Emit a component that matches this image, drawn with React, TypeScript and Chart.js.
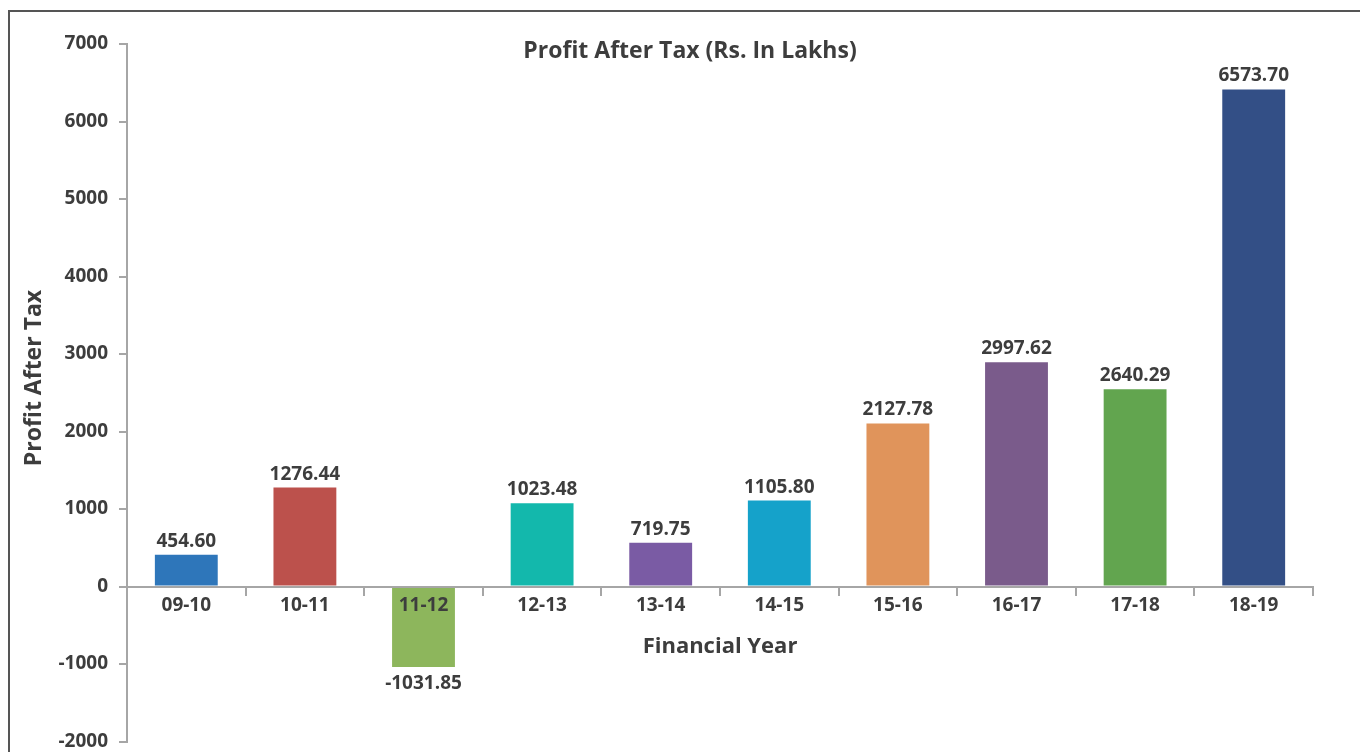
import React, { useEffect, useRef } from "react";
import { Chart, registerables } from "chart.js";

Chart.register(...registerables);

const categories = ["09-10", "10-11", "11-12", "12-13", "13-14", "14-15", "15-16", "16-17", "17-18", "18-19"];
// bar heights as drawn in the picture
const barValues = [410, 1277, -1039, 1074, 565, 1109, 2105, 2894, 2545, 6413];
// value labels printed above/below each bar
const valueLabels = ["454.60", "1276.44", "-1031.85", "1023.48", "719.75", "1105.80", "2127.78", "2997.62", "2640.29", "6573.70"];
const barColors = ["#2E76BA", "#BC514C", "#8DB65C", "#13B8AC", "#7A5BA4", "#15A2CA", "#E0945B", "#7A5B8B", "#62A54F", "#334F86"];
const yMin = -2000;
const yMax = 7000;
const yStep = 1000;

const chartTitle = "Profit After Tax (Rs. In Lakhs)";
const xTitle = "Financial Year";
const yTitle = "Profit After Tax";

const FONT = "'Open Sans', 'Noto Sans', sans-serif";
const TEXT = "#3d3d3d";
const AXIS = "#a6a6a6";

const textPlugin = {
  id: "textPlugin",
  afterDatasetsDraw(chart: any) {
    const ctx = chart.ctx;
    const area = chart.chartArea;
    const meta = chart.getDatasetMeta(0);
    ctx.save();
    ctx.fillStyle = TEXT;
    ctx.textAlign = "center";
    ctx.textBaseline = "alphabetic";
    ctx.font = `bold 19px ${FONT}`;
    meta.data.forEach((bar: any, i: number) => {
      const v = barValues[i];
      if (v >= 0) {
        ctx.fillText(valueLabels[i], bar.x, bar.y - 8);
      } else {
        ctx.fillText(valueLabels[i], bar.x, bar.y + 22);
      }
    });
    // chart title
    ctx.font = `bold 23px ${FONT}`;
    ctx.fillText(chartTitle, 690, 58);
    // x axis title
    ctx.font = `bold 22px ${FONT}`;
    ctx.fillText(xTitle, (area.left + area.right) / 2, 653);
    // y axis title
    ctx.font = `bold 23px ${FONT}`;
    ctx.save();
    ctx.translate(41, 378);
    ctx.rotate(-Math.PI / 2);
    ctx.fillText(yTitle, 0, 0);
    ctx.restore();
    ctx.restore();
  },
};

export default function App() {
  const ref = useRef<HTMLCanvasElement | null>(null);

  useEffect(() => {
    if (!ref.current) return;
    const chart = new Chart(ref.current, {
      type: "bar",
      data: {
        labels: categories,
        datasets: [
          {
            data: barValues,
            backgroundColor: barColors,
            borderWidth: 0,
            categoryPercentage: 1,
            barPercentage: 0.53,
          },
        ],
      },
      options: {
        animation: false,
        responsive: false,
        layout: { padding: { left: 0, right: 47, top: 44, bottom: 0 } },
        plugins: {
          legend: { display: false },
          title: { display: false },
          tooltip: { enabled: false },
        },
        scales: {
          x: {
            position: { y: 0 } as any,
            grid: {
              display: true,
              offset: true,
              drawOnChartArea: false,
              drawTicks: true,
              tickLength: 8,
              color: AXIS,
              lineWidth: 2,
              z: 1,
            } as any,
            border: { display: true, color: AXIS, width: 2, z: 1 } as any,
            ticks: {
              z: 1,
              color: TEXT,
              font: { family: FONT, size: 19, weight: "bold" },
              padding: 0,
              maxRotation: 0,
            },
          },
          y: {
            min: yMin,
            max: yMax,
            afterFit: (scale: any) => {
              scale.width = 127;
            },
            grid: {
              display: true,
              drawOnChartArea: false,
              drawTicks: true,
              tickLength: 8,
              color: AXIS,
              lineWidth: 2,
            },
            border: { display: true, color: AXIS, width: 2 },
            ticks: {
              stepSize: yStep,
              color: TEXT,
              font: { family: FONT, size: 19, weight: "bold" },
              padding: 11,
              callback: (v: any) => String(v),
            },
          },
        },
      },
      plugins: [textPlugin],
    });
    return () => chart.destroy();
  }, []);

  return (
    <div
      style={{
        position: "fixed",
        left: 0,
        top: 0,
        width: 1360,
        height: 752,
        background: "#fff",
        overflow: "hidden",
      }}
    >
      <div
        style={{
          position: "absolute",
          left: 8,
          top: 10,
          right: -10,
          bottom: -10,
          borderLeft: "2px solid #555",
          borderTop: "2px solid #555",
        }}
      />
      <canvas ref={ref} width={1360} height={764} style={{ position: "absolute", left: 0, top: 0 }} />
    </div>
  );
}
